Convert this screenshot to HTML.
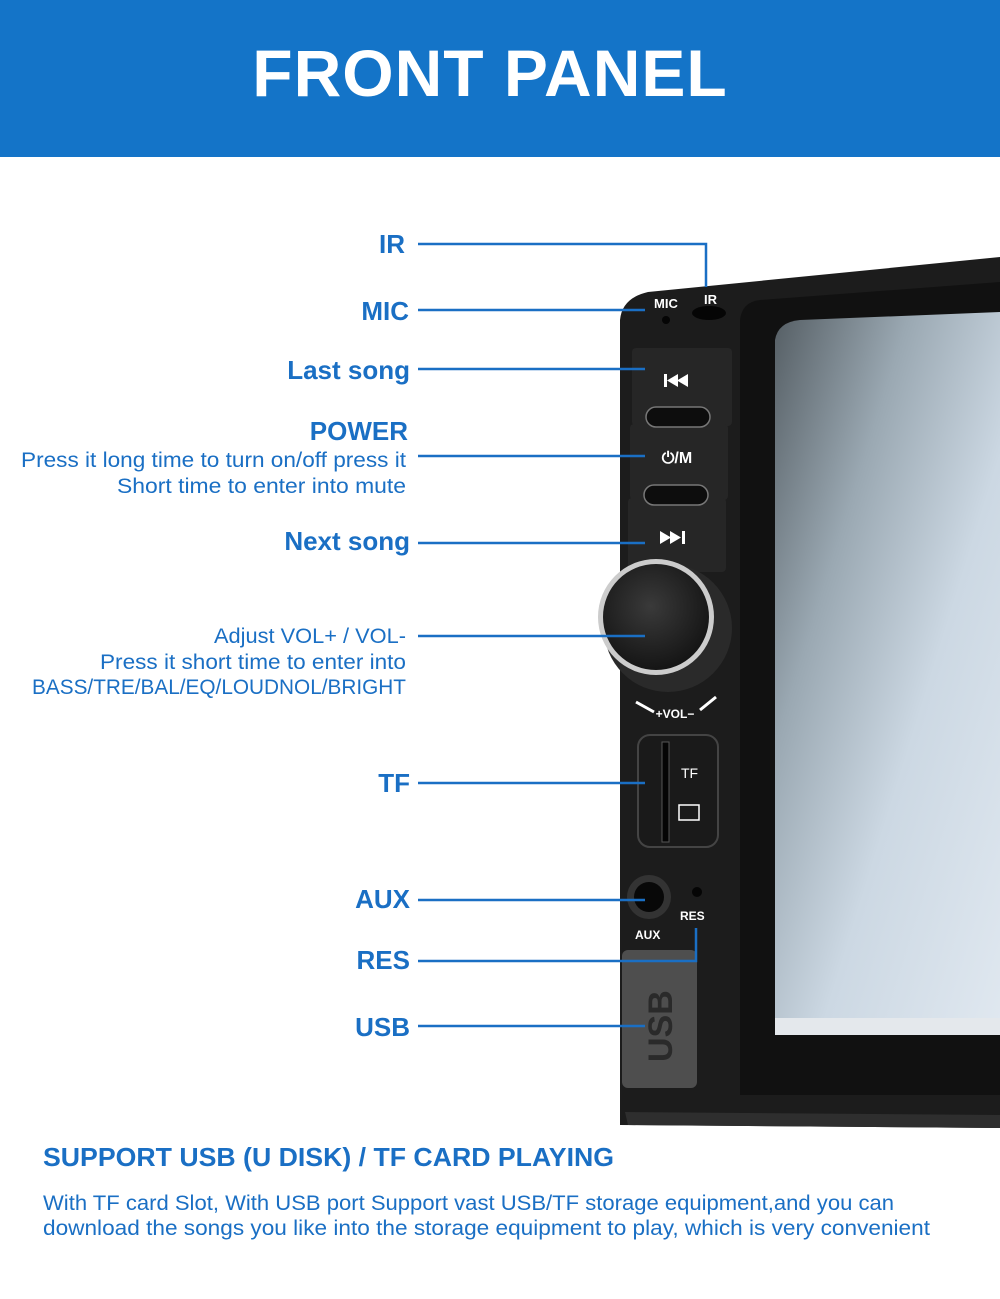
<!DOCTYPE html>
<html><head><meta charset="utf-8"><style>
html,body{margin:0;padding:0;background:#fff;width:1000px;height:1299px;overflow:hidden}
svg{display:block}
text{font-family:"Liberation Sans","DejaVu Sans",sans-serif}
</style></head><body>
<svg width="1000" height="1299" viewBox="0 0 1000 1299" xmlns="http://www.w3.org/2000/svg">
<defs>
<linearGradient id="scr" x1="0" y1="0" x2="1" y2="1">
<stop offset="0" stop-color="#555e64"/><stop offset="0.3" stop-color="#9aa8b2"/><stop offset="0.6" stop-color="#ccd8e3"/><stop offset="1" stop-color="#e0e8f0"/>
</linearGradient>
<radialGradient id="knob" cx="0.45" cy="0.4" r="0.6">
<stop offset="0" stop-color="#3a3a3a"/><stop offset="1" stop-color="#151515"/>
</radialGradient>
</defs>
<rect x="0" y="0" width="1000" height="157" fill="#1474c8"/>
<text x="490" y="96" text-anchor="middle" fill="#fff" font-size="66" font-weight="bold" letter-spacing="1">FRONT PANEL</text>

<path d="M620 1125 L620 320 Q622 298 648 292 L1000 257 L1000 1128 Z" fill="#1c1c1c"/>
<path d="M625 1112 L1000 1115 L1000 1128 L628 1125 Z" fill="#2e2e2e"/>
<path d="M740 1095 L740 320 Q742 302 760 300 L1000 282 L1000 1095 Z" fill="#111"/>
<path d="M775 1035 L775 340 Q778 322 800 320 L1000 312 L1000 1035 Z" fill="url(#scr)"/>
<rect x="775" y="1018" width="225" height="17" fill="#e4e8ec"/>
<text x="654" y="308" fill="#fff" font-size="13" font-weight="bold">MIC</text>
<text x="704" y="304" fill="#fff" font-size="13" font-weight="bold">IR</text>
<circle cx="666" cy="320" r="4" fill="#050505"/>
<ellipse cx="709" cy="313" rx="17" ry="7" fill="#050505"/>
<rect x="632" y="348" width="100" height="78" rx="4" fill="#262626"/>
<rect x="630" y="424" width="98" height="76" rx="4" fill="#262626"/>
<rect x="628" y="498" width="98" height="74" rx="4" fill="#262626"/>
<rect x="646" y="407" width="64" height="20" rx="10" fill="#0d0d0d" stroke="#777" stroke-width="1.5"/>
<rect x="644" y="485" width="64" height="20" rx="10" fill="#0d0d0d" stroke="#777" stroke-width="1.5"/>
<g fill="#fff">
<rect x="664" y="374" width="3" height="13"/>
<polygon points="667,380.5 678,374 678,387"/><polygon points="677,380.5 688,374 688,387"/>
<polygon points="660,531 671,537.5 660,544"/><polygon points="670,531 681,537.5 670,544"/>
<rect x="682" y="531" width="3" height="13"/>
</g>
<text x="677" y="463" text-anchor="middle" fill="#fff" font-size="16" font-weight="bold">⏻/M</text>
<circle cx="668" cy="628" r="64" fill="#2a2a2a"/>
<circle cx="656" cy="617" r="58" fill="#ccc"/>
<circle cx="656" cy="617" r="53" fill="url(#knob)"/>
<text x="675" y="718" text-anchor="middle" fill="#fff" font-size="12" font-weight="bold">+VOL−</text>
<path d="M636 702 L654 712 M716 697 L700 710" stroke="#fff" stroke-width="3"/>
<rect x="638" y="735" width="80" height="112" rx="12" fill="#1a1a1a" stroke="#444" stroke-width="2"/>
<rect x="662" y="742" width="7" height="100" fill="#050505" stroke="#555"/>
<text x="681" y="778" fill="#fff" font-size="14">TF</text>
<rect x="679" y="805" width="20" height="15" fill="none" stroke="#fff" stroke-width="1.5"/>
<circle cx="649" cy="897" r="22" fill="#333"/>
<circle cx="649" cy="897" r="15" fill="#080808"/>
<circle cx="697" cy="892" r="5" fill="#050505"/>
<text x="680" y="920" fill="#fff" font-size="12" font-weight="bold">RES</text>
<text x="635" y="939" fill="#fff" font-size="12" font-weight="bold">AUX</text>
<rect x="622" y="950" width="75" height="138" rx="6" fill="#4e4e4e"/>
<text transform="translate(672,1062) rotate(-90)" fill="#2a2a2a" font-size="34" font-weight="bold">USB</text>

<g stroke="#1a6fc4" stroke-width="2.5" fill="none">
<path d="M418 244 H706 V287"/>
<path d="M418 310 H645"/>
<path d="M418 369 H645"/>
<path d="M418 456 H645"/>
<path d="M418 543 H645"/>
<path d="M418 636 H645"/>
<path d="M418 783 H645"/>
<path d="M418 900 H645"/>
<path d="M418 961 H696 V928"/>
<path d="M418 1026 H645"/>
</g>
<g fill="#1a6fc4" font-weight="bold" font-size="26" text-anchor="end">
<text x="405" y="253">IR</text>
<text x="409" y="320">MIC</text>
<text x="410" y="379">Last song</text>
<text x="408" y="440">POWER</text>
<text x="410" y="550">Next song</text>
<text x="410" y="792">TF</text>
<text x="410" y="908">AUX</text>
<text x="410" y="969">RES</text>
<text x="410" y="1036">USB</text>
</g>
<g fill="#1a6fc4" font-size="21">
<text x="21" y="467" textLength="385" lengthAdjust="spacingAndGlyphs">Press it long time to turn on/off press it</text>
<text x="117" y="493" textLength="289" lengthAdjust="spacingAndGlyphs">Short time to enter into mute</text>
<text x="214" y="643" textLength="192" lengthAdjust="spacingAndGlyphs">Adjust VOL+  /  VOL-</text>
<text x="100" y="669" textLength="306" lengthAdjust="spacingAndGlyphs">Press it short time to enter into</text>
<text x="32" y="694" textLength="374" lengthAdjust="spacingAndGlyphs">BASS/TRE/BAL/EQ/LOUDNOL/BRIGHT</text>
</g>
<text x="43" y="1166" fill="#1a6fc4" font-size="26" font-weight="bold" textLength="571" lengthAdjust="spacingAndGlyphs">SUPPORT USB (U DISK)  /  TF CARD PLAYING</text>
<text x="43" y="1210" fill="#1a6fc4" font-size="21" textLength="851" lengthAdjust="spacingAndGlyphs">With TF card Slot, With USB port Support vast USB/TF storage equipment,and you can</text>
<text x="43" y="1235" fill="#1a6fc4" font-size="21" textLength="887" lengthAdjust="spacingAndGlyphs">download the songs you like into the storage equipment to play, which is very convenient</text>
</svg>
</body></html>
